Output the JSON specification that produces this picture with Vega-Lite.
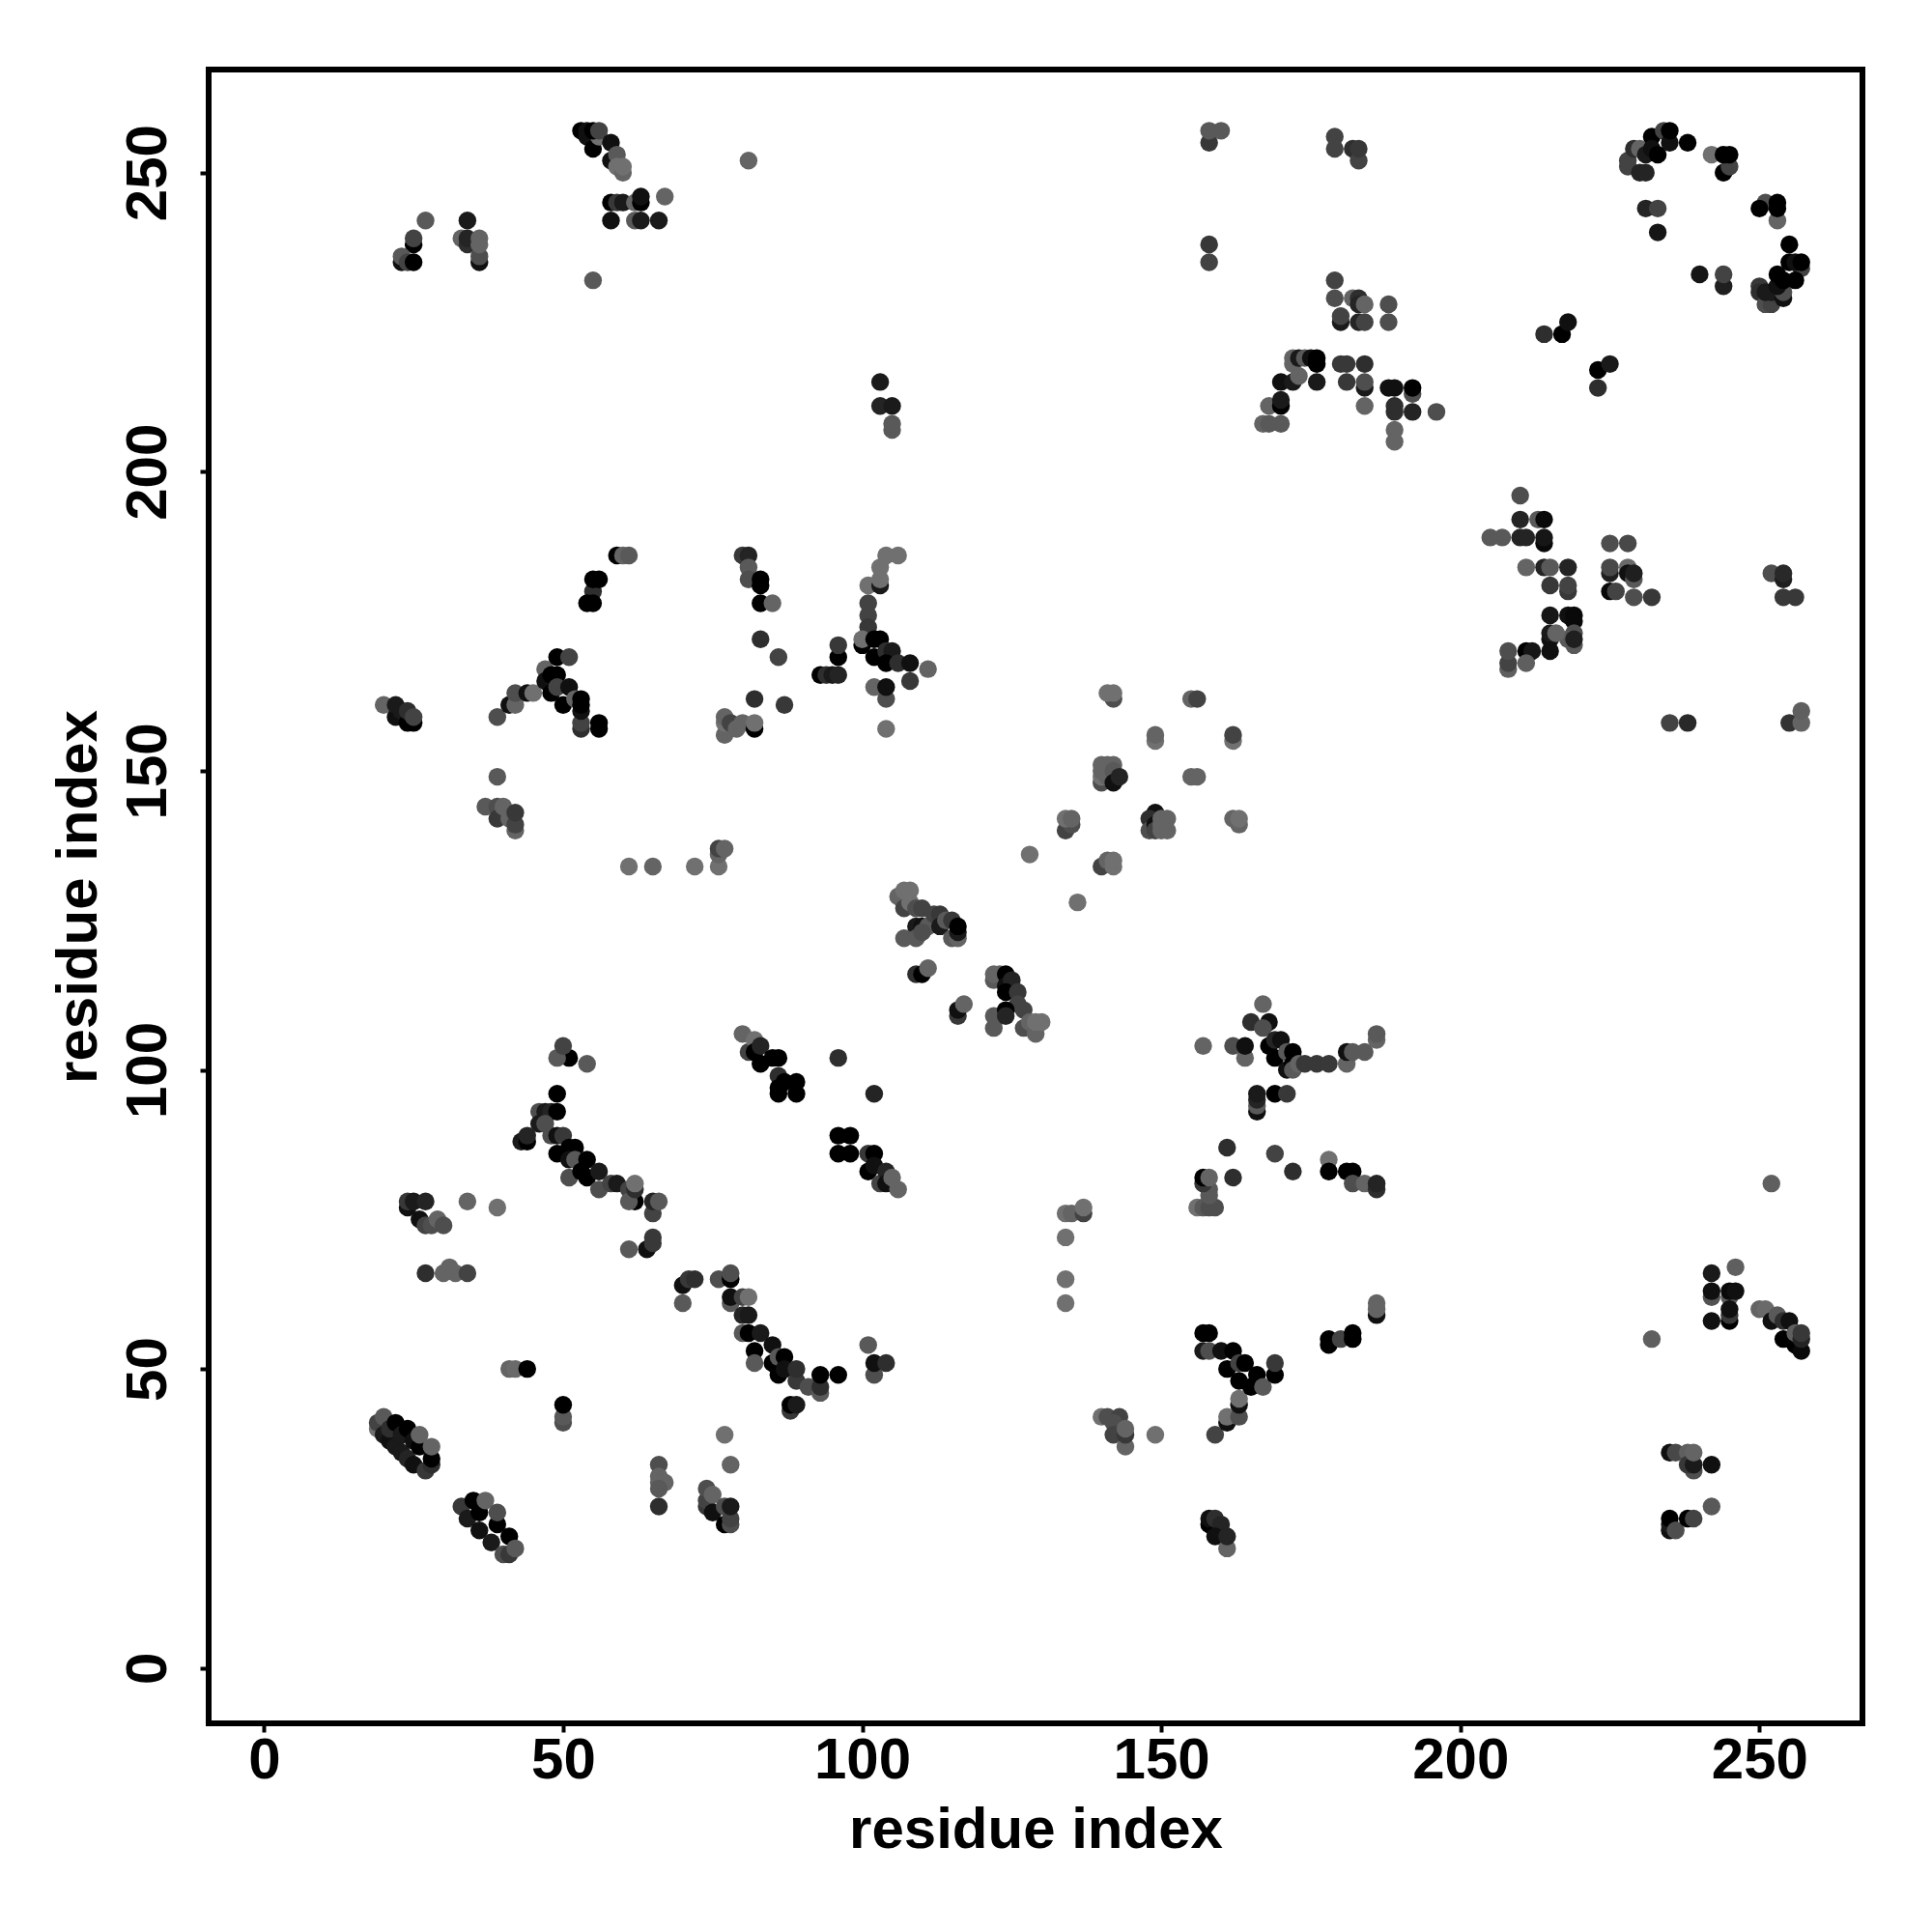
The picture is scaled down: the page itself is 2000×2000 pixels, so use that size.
{"$schema":"https://vega.github.io/schema/vega-lite/v6.json","width":1712,"height":1712,"autosize":{"type":"none"},"padding":{"left":216,"top":72,"right":72,"bottom":216},"background":"white","view":{"stroke":"black","strokeWidth":6,"fill":"white"},"config":{"font":"Liberation Sans"},
"data":{"values":[
{"x":19,"y":40,"s":0},{"x":19,"y":41,"s":0.4},{"x":20,"y":42,"s":0.2},{"x":20,"y":39,"s":0.8},{"x":21,"y":38,"s":0.9},{"x":21,"y":40,"s":0.6},{"x":22,"y":41,"s":1},{"x":22,"y":37,"s":0.8},{"x":23,"y":36,"s":0.8},{"x":23,"y":39,"s":0.8},{"x":24,"y":35,"s":0.7},{"x":24,"y":40,"s":1},{"x":25,"y":38,"s":0.9},{"x":25,"y":34,"s":0.9},{"x":26,"y":37,"s":1},{"x":26,"y":39,"s":0.1},{"x":27,"y":33,"s":0.5},{"x":28,"y":34,"s":0.6},{"x":28,"y":35,"s":1},{"x":28,"y":37,"s":0.1},
{"x":33,"y":27,"s":0.5},{"x":34,"y":25,"s":0.8},{"x":35,"y":28,"s":1},{"x":36,"y":23,"s":0.9},{"x":36,"y":26,"s":1},{"x":37,"y":28,"s":0.1},{"x":38,"y":21,"s":0.8},{"x":39,"y":24,"s":1},{"x":39,"y":26,"s":0.3},{"x":40,"y":19,"s":0.3},{"x":41,"y":19,"s":0.5},{"x":41,"y":22,"s":1},{"x":42,"y":20,"s":0.2},
{"x":27,"y":66,"s":0.6},{"x":30,"y":66,"s":0.1},{"x":31,"y":67,"s":0.1},{"x":32,"y":66,"s":0.1},{"x":34,"y":66,"s":0.4},
{"x":24,"y":77,"s":0.9},{"x":24,"y":78,"s":0.5},{"x":25,"y":78,"s":0.8},{"x":26,"y":75,"s":0.9},{"x":27,"y":78,"s":0.7},{"x":27,"y":74,"s":0.4},{"x":28,"y":74,"s":0.3},{"x":29,"y":75,"s":0.1},{"x":30,"y":74,"s":0.3},{"x":34,"y":78,"s":0.1},{"x":39,"y":77,"s":0},
{"x":51,"y":102,"s":1},{"x":49,"y":102,"s":0.2},{"x":50,"y":104,"s":0.4},{"x":54,"y":101,"s":0.2},{"x":49,"y":96,"s":1},{"x":46,"y":93,"s":0.3},{"x":47,"y":93,"s":0.8},{"x":48,"y":93,"s":0.7},{"x":49,"y":93,"s":1},{"x":46,"y":91,"s":0.8},{"x":47,"y":91,"s":0.3},{"x":43,"y":88,"s":0.8},{"x":44,"y":88,"s":1},{"x":44,"y":89,"s":0.7},{"x":48,"y":89,"s":0.3},{"x":49,"y":89,"s":0.9},{"x":50,"y":89,"s":0.5},{"x":49,"y":86,"s":1},{"x":51,"y":87,"s":1},{"x":52,"y":87,"s":1},{"x":51,"y":85,"s":0.9},{"x":52,"y":85,"s":0.2},{"x":54,"y":85,"s":1},{"x":51,"y":82,"s":0.3},{"x":53,"y":83,"s":1},{"x":54,"y":82,"s":1},{"x":56,"y":83,"s":0.8},{"x":56,"y":80,"s":0.3},{"x":58,"y":81,"s":0.4},{"x":59,"y":81,"s":0.8},{"x":61,"y":80,"s":0.4},{"x":62,"y":78,"s":1},{"x":61,"y":78,"s":0.2},{"x":62,"y":80,"s":0.6},{"x":62,"y":81,"s":0},{"x":65,"y":76,"s":0.4},{"x":65,"y":78,"s":0.7},{"x":66,"y":78,"s":0.2},{"x":64,"y":70,"s":0.9},{"x":65,"y":71,"s":0.5},{"x":65,"y":72,"s":0.5},{"x":61,"y":70,"s":0.2},
{"x":70,"y":64,"s":0.9},{"x":71,"y":65,"s":0.5},{"x":72,"y":65,"s":0.6},{"x":70,"y":61,"s":0.2},{"x":76,"y":65,"s":0.3},{"x":78,"y":65,"s":1},{"x":78,"y":66,"s":0.3},{"x":78,"y":61,"s":0.2},{"x":78,"y":62,"s":0.9},{"x":80,"y":62,"s":0.4},{"x":81,"y":62,"s":0},{"x":80,"y":56,"s":0.2},{"x":80,"y":59,"s":0.7},{"x":81,"y":59,"s":0.8},{"x":81,"y":56,"s":1},{"x":83,"y":56,"s":0.8},{"x":82,"y":53,"s":1},{"x":82,"y":51,"s":0.2},{"x":85,"y":54,"s":0.9},{"x":85,"y":51,"s":1},{"x":86,"y":52,"s":0.2},{"x":87,"y":52,"s":1},{"x":86,"y":49,"s":1},{"x":87,"y":50,"s":0.9},{"x":89,"y":48,"s":0.5},{"x":89,"y":50,"s":0.6},{"x":91,"y":47,"s":0.3},{"x":93,"y":46,"s":0.2},{"x":93,"y":47,"s":0.6},{"x":93,"y":49,"s":1},{"x":96,"y":49,"s":1},{"x":88,"y":43,"s":0.5},{"x":88,"y":44,"s":1},{"x":89,"y":44,"s":0.8},
{"x":80,"y":106,"s":0.1},{"x":81,"y":103,"s":0.4},{"x":82,"y":105,"s":0},{"x":82,"y":103,"s":1},{"x":83,"y":104,"s":0.7},{"x":83,"y":101,"s":1},{"x":85,"y":102,"s":1},{"x":86,"y":102,"s":1},{"x":86,"y":99,"s":0.6},{"x":86,"y":97,"s":1},{"x":86,"y":96,"s":1},{"x":89,"y":98,"s":1},{"x":89,"y":96,"s":1},{"x":87,"y":98,"s":1},
{"x":96,"y":102,"s":0.6},{"x":102,"y":96,"s":0.7},{"x":96,"y":89,"s":1},{"x":98,"y":89,"s":1},{"x":96,"y":86,"s":1},{"x":98,"y":86,"s":1},{"x":101,"y":83,"s":1},{"x":101,"y":86,"s":0.5},{"x":102,"y":86,"s":1},{"x":102,"y":84,"s":0.9},{"x":103,"y":81,"s":0.4},{"x":104,"y":83,"s":0.7},{"x":104,"y":81,"s":0.9},{"x":105,"y":82,"s":0.1},{"x":106,"y":80,"s":0.1},
{"x":101,"y":54,"s":0.2},{"x":102,"y":49,"s":0.3},{"x":102,"y":51,"s":0.9},{"x":104,"y":51,"s":0.6},
{"x":134,"y":72,"s":0},{"x":134,"y":76,"s":0},{"x":135,"y":76,"s":0.1},{"x":137,"y":76,"s":0.4},{"x":137,"y":77,"s":0},{"x":134,"y":65,"s":0},{"x":134,"y":61,"s":0},
{"x":149,"y":39,"s":0},{"x":140,"y":42,"s":0},{"x":141,"y":42,"s":0.3},{"x":143,"y":42,"s":0.4},{"x":142,"y":41,"s":0.3},{"x":142,"y":39,"s":0.4},{"x":144,"y":37,"s":0.1},{"x":144,"y":39,"s":0.5},{"x":144,"y":40,"s":0.1},
{"x":159,"y":39,"s":0.4},{"x":161,"y":41,"s":0.9},{"x":161,"y":42,"s":0},{"x":163,"y":42,"s":0.3},{"x":163,"y":44,"s":0.9},{"x":163,"y":45,"s":0},
{"x":158,"y":24,"s":1},{"x":158,"y":25,"s":0.9},{"x":159,"y":25,"s":0.6},{"x":160,"y":24,"s":0.7},{"x":159,"y":22,"s":0.9},{"x":161,"y":20,"s":0.1},{"x":161,"y":22,"s":0.7},
{"x":157,"y":56,"s":1},{"x":158,"y":56,"s":1},{"x":157,"y":53,"s":0.8},{"x":158,"y":53,"s":0.3},{"x":160,"y":53,"s":0.9},{"x":162,"y":53,"s":1},{"x":161,"y":50,"s":1},{"x":163,"y":51,"s":0.4},{"x":164,"y":51,"s":1},{"x":163,"y":48,"s":1},{"x":165,"y":47,"s":1},{"x":166,"y":49,"s":1},{"x":167,"y":47,"s":0.2},{"x":169,"y":49,"s":1},{"x":169,"y":51,"s":0.5},
{"x":161,"y":87,"s":0.6},{"x":162,"y":82,"s":0.6},{"x":169,"y":86,"s":0.4},{"x":172,"y":83,"s":0.6},{"x":156,"y":77,"s":0},{"x":157,"y":77,"s":0.2},{"x":158,"y":77,"s":0.3},{"x":159,"y":77,"s":0.3},{"x":158,"y":79,"s":0.2},{"x":158,"y":80,"s":0.2},{"x":157,"y":81,"s":0.5},{"x":157,"y":82,"s":1},{"x":158,"y":82,"s":0.1},
{"x":178,"y":85,"s":0},{"x":178,"y":83,"s":1},{"x":181,"y":83,"s":1},{"x":182,"y":83,"s":1},{"x":182,"y":81,"s":0.3},{"x":184,"y":81,"s":0.1},{"x":186,"y":80,"s":0.6},{"x":186,"y":81,"s":0.7},
{"x":178,"y":54,"s":1},{"x":178,"y":55,"s":1},{"x":180,"y":55,"s":0.4},{"x":182,"y":55,"s":1},{"x":182,"y":56,"s":1},{"x":186,"y":59,"s":0.9},{"x":186,"y":60,"s":0.1},{"x":186,"y":61,"s":0.1},
{"x":157,"y":104,"s":0.1},{"x":162,"y":104,"s":0.3},{"x":164,"y":102,"s":0.1},{"x":164,"y":104,"s":0.9},{"x":167,"y":111,"s":0.1},{"x":165,"y":108,"s":0.6},{"x":168,"y":108,"s":0.9},{"x":167,"y":107,"s":0.3},{"x":169,"y":102,"s":1},{"x":168,"y":104,"s":1},{"x":169,"y":105,"s":0.7},{"x":170,"y":105,"s":0.9},{"x":171,"y":100,"s":0.9},{"x":171,"y":103,"s":0.2},{"x":172,"y":103,"s":1},{"x":172,"y":101,"s":1},{"x":172,"y":100,"s":0.2},{"x":173,"y":101,"s":0.1},{"x":174,"y":101,"s":0.5},{"x":176,"y":101,"s":0.5},{"x":178,"y":101,"s":0.5},{"x":181,"y":101,"s":0.1},{"x":181,"y":103,"s":0.9},{"x":182,"y":103,"s":0.2},{"x":184,"y":103,"s":0.2},{"x":186,"y":105,"s":0.1},{"x":186,"y":106,"s":0.2},
{"x":166,"y":93,"s":0.9},{"x":166,"y":94,"s":0.2},{"x":166,"y":95,"s":0.7},{"x":166,"y":96,"s":0.8},{"x":169,"y":96,"s":1},{"x":171,"y":96,"s":0.5},
{"x":104,"y":186,"s":0},{"x":106,"y":186,"s":0},{"x":103,"y":184,"s":0},{"x":101,"y":181,"s":0},{"x":103,"y":181,"s":0.8},{"x":103,"y":182,"s":0},{"x":101,"y":178,"s":0.4},{"x":101,"y":176,"s":0.4},{"x":101,"y":174,"s":0.5},{"x":100,"y":171,"s":1},{"x":100,"y":172,"s":0},{"x":102,"y":172,"s":1},{"x":103,"y":172,"s":1},{"x":102,"y":169,"s":1},{"x":104,"y":170,"s":0.6},{"x":105,"y":170,"s":0.8},{"x":104,"y":168,"s":1},{"x":106,"y":168,"s":0.6},{"x":108,"y":165,"s":0.5},{"x":108,"y":168,"s":0.9},{"x":111,"y":167,"s":0.1},{"x":102,"y":164,"s":0.1},{"x":104,"y":162,"s":0.3},{"x":104,"y":164,"s":0.9},{"x":104,"y":157,"s":0},{"x":96,"y":169,"s":1},{"x":96,"y":171,"s":0.5},{"x":93,"y":166,"s":1},{"x":94,"y":166,"s":0.6},{"x":95,"y":166,"s":0.8},{"x":96,"y":166,"s":0.7},
{"x":142,"y":162,"s":0.3},{"x":141,"y":163,"s":0},{"x":142,"y":163,"s":0},{"x":155,"y":162,"s":0.1},{"x":156,"y":162,"s":0.4},{"x":149,"y":155,"s":0},{"x":149,"y":156,"s":0.1},{"x":162,"y":155,"s":0},{"x":162,"y":156,"s":0.4},
{"x":140,"y":148,"s":0.3},{"x":140,"y":149,"s":0},{"x":140,"y":150,"s":0.1},{"x":140,"y":151,"s":0.1},{"x":141,"y":151,"s":0.1},{"x":142,"y":151,"s":0.1},{"x":141,"y":149,"s":0.1},{"x":142,"y":150,"s":0.2},{"x":142,"y":148,"s":0.9},{"x":143,"y":149,"s":0.7},{"x":155,"y":149,"s":0.1},{"x":156,"y":149,"s":0.1},{"x":162,"y":142,"s":0.1},{"x":163,"y":141,"s":0.1},{"x":163,"y":142,"s":0},
{"x":149,"y":143,"s":0.9},{"x":148,"y":142,"s":0.6},{"x":148,"y":140,"s":0.3},{"x":149,"y":141,"s":0.9},{"x":149,"y":140,"s":0.4},{"x":150,"y":142,"s":0.1},{"x":151,"y":142,"s":0.1},{"x":150,"y":141,"s":0.1},{"x":150,"y":140,"s":0.1},{"x":151,"y":140,"s":0.1},
{"x":134,"y":140,"s":0.4},{"x":135,"y":141,"s":0.3},{"x":134,"y":142,"s":0},{"x":135,"y":142,"s":0.1},{"x":128,"y":136,"s":0},{"x":136,"y":128,"s":0},{"x":140,"y":134,"s":0.4},{"x":141,"y":135,"s":0.1},{"x":142,"y":134,"s":0},{"x":142,"y":135,"s":0},
{"x":106,"y":129,"s":0.1},{"x":107,"y":127,"s":0.4},{"x":107,"y":130,"s":0},{"x":108,"y":130,"s":0},{"x":108,"y":128,"s":0},{"x":109,"y":127,"s":0.3},{"x":110,"y":127,"s":0.4},{"x":109,"y":124,"s":0.8},{"x":110,"y":124,"s":0.9},{"x":111,"y":124,"s":0.2},{"x":112,"y":126,"s":0.4},{"x":113,"y":126,"s":0.5},{"x":113,"y":124,"s":0.8},{"x":114,"y":125,"s":0.2},{"x":115,"y":125,"s":0.5},{"x":107,"y":122,"s":0.2},{"x":109,"y":122,"s":0.2},{"x":110,"y":123,"s":0.3},{"x":115,"y":122,"s":0.2},{"x":116,"y":122,"s":0.1},{"x":116,"y":123,"s":0.8},{"x":116,"y":124,"s":1},
{"x":109,"y":116,"s":0.6},{"x":110,"y":116,"s":1},{"x":111,"y":117,"s":0.1},{"x":116,"y":109,"s":0.5},{"x":116,"y":110,"s":0.9},{"x":117,"y":111,"s":0.1},
{"x":122,"y":115,"s":0.2},{"x":122,"y":116,"s":0.1},{"x":123,"y":116,"s":0.1},{"x":124,"y":116,"s":1},{"x":124,"y":114,"s":0.9},{"x":125,"y":115,"s":0.7},{"x":124,"y":113,"s":1},{"x":126,"y":113,"s":0.5},{"x":126,"y":111,"s":0.4},{"x":122,"y":107,"s":0.2},{"x":122,"y":109,"s":0.2},{"x":123,"y":109,"s":0.2},{"x":124,"y":110,"s":1},{"x":124,"y":109,"s":0.7},{"x":127,"y":110,"s":0.4},{"x":127,"y":107,"s":0.3},{"x":128,"y":108,"s":0.1},{"x":129,"y":106,"s":0.1},{"x":129,"y":108,"s":0},{"x":130,"y":108,"s":0},
{"x":20,"y":161,"s":0.1},{"x":22,"y":159,"s":0.9},{"x":22,"y":161,"s":0.8},{"x":23,"y":160,"s":0.8},{"x":24,"y":158,"s":1},{"x":25,"y":158,"s":1},{"x":24,"y":160,"s":0.6},{"x":25,"y":159,"s":0.4},
{"x":39,"y":159,"s":0.3},{"x":41,"y":161,"s":0.9},{"x":42,"y":161,"s":0.1},{"x":42,"y":163,"s":0.3},{"x":44,"y":163,"s":0.9},{"x":45,"y":163,"s":0},{"x":47,"y":167,"s":0.1},{"x":47,"y":165,"s":0.9},{"x":48,"y":166,"s":1},{"x":48,"y":163,"s":1},{"x":49,"y":166,"s":1},{"x":49,"y":169,"s":1},{"x":51,"y":169,"s":0.4},{"x":49,"y":164,"s":0.4},{"x":51,"y":164,"s":0.9},{"x":50,"y":161,"s":1},{"x":52,"y":162,"s":0.1},{"x":53,"y":157,"s":0.6},{"x":53,"y":158,"s":0.4},{"x":53,"y":160,"s":0.9},{"x":53,"y":161,"s":1},{"x":53,"y":162,"s":1},{"x":56,"y":157,"s":1},{"x":56,"y":158,"s":1},
{"x":55,"y":180,"s":0.6},{"x":54,"y":178,"s":1},{"x":55,"y":178,"s":1},{"x":55,"y":182,"s":1},{"x":56,"y":182,"s":1},{"x":59,"y":186,"s":1},{"x":60,"y":186,"s":0.1},{"x":61,"y":186,"s":0.2},
{"x":80,"y":186,"s":0.5},{"x":81,"y":186,"s":0.7},{"x":81,"y":184,"s":0.2},{"x":81,"y":182,"s":0.3},{"x":83,"y":182,"s":1},{"x":83,"y":181,"s":1},{"x":83,"y":178,"s":1},{"x":85,"y":178,"s":0.1},{"x":83,"y":172,"s":0.6},{"x":86,"y":169,"s":0.4},{"x":87,"y":161,"s":0.5},{"x":82,"y":162,"s":0.6},
{"x":77,"y":156,"s":0.1},{"x":77,"y":158,"s":0},{"x":77,"y":159,"s":0.1},{"x":78,"y":158,"s":0.4},{"x":79,"y":157,"s":0.1},{"x":80,"y":158,"s":0.1},{"x":82,"y":157,"s":1},{"x":82,"y":158,"s":0},
{"x":39,"y":149,"s":0.2},{"x":37,"y":144,"s":0.2},{"x":39,"y":144,"s":0.3},{"x":39,"y":142,"s":0.5},{"x":40,"y":144,"s":0.1},{"x":41,"y":142,"s":0.1},{"x":42,"y":140,"s":0.1},{"x":42,"y":141,"s":0.4},{"x":42,"y":143,"s":0.5},
{"x":61,"y":134,"s":0},{"x":65,"y":134,"s":0.1},{"x":72,"y":134,"s":0},{"x":76,"y":134,"s":0},{"x":76,"y":136,"s":0.1},{"x":76,"y":137,"s":0.4},{"x":77,"y":137,"s":0.1},
{"x":27,"y":242,"s":0.2},{"x":34,"y":242,"s":0.8},{"x":25,"y":238,"s":1},{"x":25,"y":239,"s":0.4},{"x":23,"y":235,"s":0.9},{"x":23,"y":236,"s":0.2},{"x":24,"y":235,"s":0.4},{"x":25,"y":235,"s":1},{"x":33,"y":239,"s":0.1},{"x":34,"y":238,"s":0.6},{"x":34,"y":239,"s":0.7},{"x":36,"y":235,"s":0.9},{"x":36,"y":236,"s":0.3},{"x":36,"y":238,"s":0.1},{"x":36,"y":239,"s":0.1},
{"x":53,"y":257,"s":1},{"x":54,"y":257,"s":0.9},{"x":54,"y":256,"s":0.9},{"x":55,"y":254,"s":1},{"x":56,"y":256,"s":0},{"x":55,"y":257,"s":1},{"x":56,"y":257,"s":0.4},{"x":58,"y":255,"s":0.9},{"x":58,"y":252,"s":0.9},{"x":59,"y":253,"s":0.2},{"x":59,"y":251,"s":0},{"x":60,"y":250,"s":0.1},{"x":60,"y":251,"s":0},
{"x":58,"y":245,"s":1},{"x":59,"y":245,"s":0.5},{"x":60,"y":245,"s":0.8},{"x":62,"y":245,"s":0.1},{"x":63,"y":245,"s":1},{"x":63,"y":246,"s":0.9},{"x":67,"y":246,"s":0.1},{"x":58,"y":242,"s":0.9},{"x":62,"y":242,"s":0.2},{"x":63,"y":242,"s":0.8},{"x":66,"y":242,"s":0.8},{"x":55,"y":232,"s":0.2},{"x":81,"y":252,"s":0.1},
{"x":103,"y":215,"s":0.8},{"x":103,"y":211,"s":0.7},{"x":105,"y":211,"s":0.8},{"x":105,"y":207,"s":0.2},{"x":105,"y":208,"s":0.2},
{"x":158,"y":255,"s":0.5},{"x":158,"y":257,"s":0.2},{"x":160,"y":257,"s":0.2},{"x":158,"y":238,"s":0.5},{"x":158,"y":235,"s":0.4},
{"x":179,"y":254,"s":0.4},{"x":179,"y":256,"s":0.4},{"x":182,"y":254,"s":0.6},{"x":183,"y":252,"s":0.4},{"x":183,"y":254,"s":0.5},
{"x":179,"y":232,"s":0.4},{"x":179,"y":229,"s":0.3},{"x":182,"y":229,"s":0.1},{"x":183,"y":229,"s":0.6},{"x":183,"y":228,"s":0.7},{"x":184,"y":228,"s":0.1},{"x":188,"y":228,"s":0.3},{"x":188,"y":225,"s":0.3},{"x":180,"y":225,"s":0.8},{"x":180,"y":226,"s":0.4},{"x":183,"y":225,"s":0.7},{"x":184,"y":225,"s":0.4},
{"x":172,"y":218,"s":0.1},{"x":172,"y":219,"s":0.1},{"x":173,"y":219,"s":0.8},{"x":174,"y":219,"s":0.2},{"x":175,"y":219,"s":0.9},{"x":176,"y":219,"s":1},{"x":176,"y":218,"s":1},{"x":180,"y":218,"s":0.5},{"x":181,"y":218,"s":0.5},{"x":184,"y":218,"s":0.6},{"x":170,"y":215,"s":0.9},{"x":172,"y":215,"s":0.8},{"x":173,"y":216,"s":0.1},{"x":176,"y":215,"s":0.8},{"x":181,"y":215,"s":0.5},{"x":184,"y":214,"s":0.8},{"x":184,"y":215,"s":0.3},{"x":188,"y":214,"s":0.9},{"x":189,"y":214,"s":0.9},{"x":192,"y":213,"s":0.3},{"x":192,"y":214,"s":1},
{"x":168,"y":211,"s":0.1},{"x":170,"y":211,"s":1},{"x":170,"y":212,"s":0.8},{"x":184,"y":211,"s":0.1},{"x":189,"y":210,"s":0.6},{"x":189,"y":211,"s":0.6},{"x":192,"y":210,"s":0.7},{"x":196,"y":210,"s":0.3},{"x":167,"y":208,"s":0.1},{"x":168,"y":208,"s":0.2},{"x":170,"y":208,"s":0.2},{"x":189,"y":207,"s":0.1},{"x":189,"y":205,"s":0.1},
{"x":214,"y":223,"s":0.6},{"x":217,"y":223,"s":1},{"x":218,"y":225,"s":0.9},{"x":223,"y":217,"s":1},{"x":225,"y":218,"s":0.8},{"x":223,"y":214,"s":0.6},
{"x":228,"y":251,"s":0.4},{"x":228,"y":252,"s":0.4},{"x":229,"y":254,"s":0.6},{"x":230,"y":254,"s":0.1},{"x":230,"y":250,"s":0.7},{"x":231,"y":250,"s":0.7},{"x":231,"y":253,"s":0.8},{"x":232,"y":256,"s":1},{"x":232,"y":254,"s":0.9},{"x":233,"y":253,"s":1},{"x":234,"y":257,"s":0.4},{"x":235,"y":255,"s":0.9},{"x":235,"y":257,"s":1},{"x":238,"y":255,"s":1},
{"x":242,"y":253,"s":0},{"x":244,"y":250,"s":1},{"x":245,"y":251,"s":0.4},{"x":244,"y":253,"s":1},{"x":245,"y":253,"s":1},{"x":231,"y":244,"s":0.7},{"x":233,"y":244,"s":0.4},{"x":233,"y":240,"s":0.85},
{"x":251,"y":245,"s":0.3},{"x":250,"y":244,"s":1},{"x":253,"y":242,"s":0.1},{"x":253,"y":244,"s":1},{"x":253,"y":245,"s":1},{"x":255,"y":238,"s":1},{"x":257,"y":234,"s":0.4},{"x":255,"y":235,"s":1},{"x":256,"y":235,"s":0.9},{"x":257,"y":235,"s":1},{"x":240,"y":233,"s":0.85},{"x":244,"y":231,"s":0.75},{"x":244,"y":233,"s":0.4},{"x":250,"y":231,"s":0.5},{"x":250,"y":230,"s":0.6},{"x":251,"y":228,"s":0.3},{"x":252,"y":228,"s":0.4},{"x":251,"y":230,"s":0.8},{"x":252,"y":230,"s":0.8},{"x":254,"y":229,"s":0.9},{"x":254,"y":230,"s":0.3},{"x":253,"y":231,"s":0.9},{"x":253,"y":233,"s":1},{"x":254,"y":232,"s":1},{"x":256,"y":232,"s":1},
{"x":210,"y":196,"s":0.3},{"x":210,"y":192,"s":0.7},{"x":213,"y":192,"s":0.2},{"x":214,"y":192,"s":0.95},{"x":205,"y":189,"s":0.2},{"x":207,"y":189,"s":0.2},{"x":210,"y":189,"s":0.7},{"x":211,"y":189,"s":0.7},{"x":214,"y":188,"s":0.95},{"x":214,"y":189,"s":0.85},
{"x":211,"y":184,"s":0.1},{"x":214,"y":184,"s":0.7},{"x":215,"y":184,"s":0.2},{"x":218,"y":184,"s":0.7},{"x":215,"y":181,"s":0.5},{"x":218,"y":180,"s":0.5},{"x":218,"y":181,"s":0.4},
{"x":215,"y":176,"s":0.85},{"x":218,"y":176,"s":0.9},{"x":219,"y":176,"s":0.95},{"x":219,"y":175,"s":0.95},{"x":219,"y":173,"s":0.3},{"x":218,"y":172,"s":0.2},{"x":219,"y":171,"s":0.2},{"x":219,"y":172,"s":0.75},{"x":215,"y":172,"s":0.9},{"x":215,"y":173,"s":0.8},{"x":216,"y":173,"s":0.1},{"x":215,"y":170,"s":0.9},{"x":211,"y":170,"s":1},{"x":212,"y":170,"s":0.85},{"x":208,"y":167,"s":0.15},{"x":208,"y":168,"s":0.4},{"x":208,"y":170,"s":0.3},{"x":211,"y":168,"s":0.15},
{"x":225,"y":188,"s":0.3},{"x":228,"y":188,"s":0.35},{"x":225,"y":183,"s":0.75},{"x":225,"y":184,"s":0.35},{"x":228,"y":184,"s":0.05},{"x":228,"y":183,"s":0.9},{"x":229,"y":182,"s":0.2},{"x":229,"y":183,"s":0.75},{"x":225,"y":180,"s":0.95},{"x":226,"y":180,"s":0.4},{"x":229,"y":179,"s":0.3},{"x":232,"y":179,"s":0.5},
{"x":252,"y":183,"s":0.3},{"x":254,"y":182,"s":0.75},{"x":254,"y":183,"s":0.65},{"x":254,"y":179,"s":0.5},{"x":256,"y":179,"s":0.5},{"x":235,"y":158,"s":0.4},{"x":238,"y":158,"s":0.65},{"x":255,"y":158,"s":0.55},{"x":257,"y":158,"s":0.1},{"x":257,"y":160,"s":0.15},
{"x":252,"y":81,"s":0.15},{"x":246,"y":67,"s":0.15},{"x":242,"y":66,"s":0.8},{"x":242,"y":62,"s":0.25},{"x":242,"y":63,"s":0.9},{"x":245,"y":62,"s":0.2},{"x":245,"y":63,"s":0.95},{"x":246,"y":63,"s":0.9},{"x":245,"y":58,"s":1},{"x":245,"y":59,"s":0.5},{"x":245,"y":60,"s":0.9},{"x":242,"y":58,"s":0.9},
{"x":250,"y":60,"s":0.1},{"x":251,"y":60,"s":0.05},{"x":252,"y":58,"s":0.9},{"x":253,"y":59,"s":0.2},{"x":254,"y":55,"s":1},{"x":254,"y":58,"s":0.6},{"x":255,"y":58,"s":0.9},{"x":256,"y":54,"s":1},{"x":256,"y":56,"s":0.15},{"x":257,"y":53,"s":0.95},{"x":257,"y":55,"s":0.7},{"x":257,"y":56,"s":0.5},{"x":232,"y":55,"s":0.15},
{"x":235,"y":36,"s":0.9},{"x":236,"y":36,"s":0.35},{"x":238,"y":36,"s":0.15},{"x":239,"y":33,"s":0.3},{"x":238,"y":34,"s":0.5},{"x":239,"y":34,"s":0.8},{"x":239,"y":36,"s":0.1},{"x":242,"y":34,"s":0.9},{"x":242,"y":27,"s":0.2},{"x":235,"y":23,"s":0.9},{"x":235,"y":24,"s":0.8},{"x":235,"y":25,"s":1},{"x":236,"y":23,"s":0.3},{"x":238,"y":25,"s":1},{"x":239,"y":25,"s":0.4},
{"x":41,"y":50,"s":0.1},{"x":42,"y":50,"s":0.05},{"x":44,"y":50,"s":1},{"x":50,"y":41,"s":0.3},{"x":50,"y":42,"s":0.2},{"x":50,"y":44,"s":1},
{"x":66,"y":34,"s":0.3},{"x":66,"y":32,"s":0.1},{"x":66,"y":31,"s":0.1},{"x":67,"y":31,"s":0.1},{"x":66,"y":30,"s":0.2},{"x":66,"y":27,"s":0.6},{"x":77,"y":39,"s":0},{"x":78,"y":34,"s":0.1},{"x":74,"y":27,"s":0.5},{"x":74,"y":28,"s":0.4},{"x":74,"y":30,"s":0.3},{"x":75,"y":26,"s":0.9},{"x":75,"y":29,"s":0.1},{"x":77,"y":24,"s":1},{"x":77,"y":27,"s":0.3},{"x":78,"y":24,"s":0.3},{"x":78,"y":25,"s":0.4},{"x":78,"y":27,"s":0.8}
]},
"mark":{"type":"circle","size":339,"opacity":1},
"encoding":{
"x":{"field":"x","type":"quantitative","scale":{"domain":[-9.26,267.22],"nice":false,"zero":false},"axis":{"values":[0,50,100,150,200,250],"grid":false,"domain":false,"title":"residue index","ticks":true,"tickColor":"black","tickWidth":4,"tickSize":9,"labelFont":"Liberation Sans","labelFontWeight":"bold","labelFontSize":60,"labelColor":"black","labelBaseline":"alphabetic","labelPadding":47,"titleFont":"Liberation Sans","titleFontWeight":"bold","titleFontSize":60,"titleColor":"black","titleBaseline":"alphabetic","titleY":128}},
"y":{"field":"y","type":"quantitative","scale":{"domain":[-9.25,267.23],"nice":false,"zero":false},"axis":{"values":[0,50,100,150,200,250],"grid":false,"domain":false,"title":"residue index","ticks":true,"tickColor":"black","tickWidth":4,"tickSize":9,"labelFont":"Liberation Sans","labelFontWeight":"bold","labelFontSize":60,"labelColor":"black","labelAngle":270,"labelAlign":"center","labelBaseline":"alphabetic","labelPadding":36,"titleFont":"Liberation Sans","titleFontWeight":"bold","titleFontSize":60,"titleColor":"black","titleBaseline":"alphabetic","titleX":-116.5}},
"color":{"field":"s","type":"quantitative","scale":{"domain":[0,1],"range":["#707070","#000000"]},"legend":null}
}}
